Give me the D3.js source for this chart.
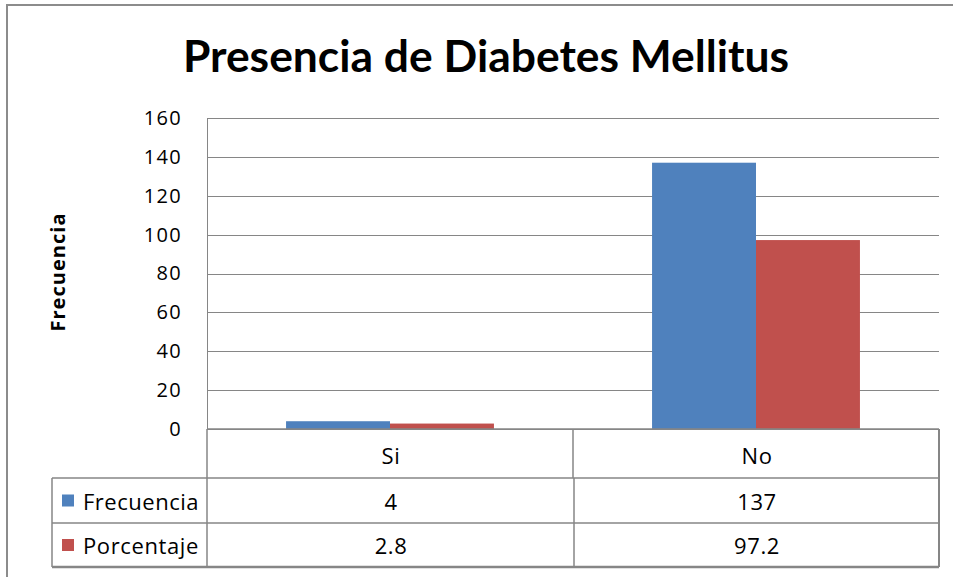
<!DOCTYPE html>
<html>
<head>
<meta charset="utf-8">
<script src="https://cdn.jsdelivr.net/npm/d3@7"></script>
<style>
html,body{margin:0;padding:0;background:#fff;}
svg{display:block;}
text{font-family:"Open Sans",sans-serif;fill:#000;}
</style>
</head>
<body>
<svg id="chart" width="953" height="577"></svg>
<script>
const title = "Presencia de Diabetes Mellitus";
const yAxisTitle = "Frecuencia";
const categories = ["Si", "No"];
const seriesNames = ["Frecuencia", "Porcentaje"];
const frecuencia = [4, 137];
const porcentaje = [2.8, 97.2];
const yTicks = [0, 20, 40, 60, 80, 100, 120, 140, 160];
const colors = ["#4F81BD", "#C0504D"];

const seriesValues = [frecuencia, porcentaje];
const svg = d3.select("#chart");

// fit a text element's width via letter-spacing
function fitSpacing(sel, target) {
  sel.each(function() {
    const n = this.textContent.length;
    const w = this.getComputedTextLength();
    if (n > 1) d3.select(this).style("letter-spacing", ((target - w) / n).toFixed(2) + "px");
  });
}

// outer border (cropped at right/bottom)
svg.append("rect").attr("x", 7).attr("y", 5).attr("width", 960).attr("height", 590)
  .attr("fill", "#fff").attr("stroke", "#8c8c8c").attr("stroke-width", 2);

const plot = {left: 207, right: 939, top: 118, bottom: 429};
const y = d3.scaleLinear().domain([0, 160]).range([plot.bottom, plot.top]);
const x0 = d3.scaleBand().domain(categories).range([plot.left, plot.right]).padding(0);
const x1 = d3.scaleBand().domain(seriesNames).range([x0.bandwidth()*0.216, x0.bandwidth()*0.784]).padding(0);

// gridlines
svg.append("g").selectAll("line").data(yTicks).join("line")
  .attr("x1", plot.left).attr("x2", plot.right)
  .attr("y1", d => Math.round(y(d)) + 0.5).attr("y2", d => Math.round(y(d)) + 0.5)
  .attr("stroke", "#868686").attr("stroke-width", 1);

// y axis
const yAxis = d3.axisLeft(y).tickValues(yTicks).tickSize(0).tickPadding(25);
const gy = svg.append("g").attr("transform", `translate(${plot.left},0)`).call(yAxis);
gy.select(".domain").remove();
gy.selectAll("text").style("font-family", "'Open Sans', sans-serif").style("font-size", "20px")
  .attr("fill", "#000").style("letter-spacing", "1.3px");
svg.append("line").attr("x1", plot.left + 0.5).attr("x2", plot.left + 0.5)
  .attr("y1", plot.top).attr("y2", plot.bottom).attr("stroke", "#868686");

// bars
const groups = svg.append("g").selectAll("g").data(categories).join("g")
  .attr("transform", d => `translate(${x0(d)},0)`);
groups.selectAll("rect").data((c, i) => seriesNames.map((s, j) => ({s, j, v: seriesValues[j][i]})))
  .join("rect")
  .attr("x", d => x1(d.s)).attr("width", x1.bandwidth())
  .attr("y", d => y(d.v)).attr("height", d => y(0) - y(d.v))
  .attr("fill", d => colors[d.j]);

// data table
const rows = [plot.bottom, 478, 523, 567];
const tableLeft = 52;
const tg = svg.append("g").attr("stroke", "#868686").attr("stroke-width", 1.5).attr("fill", "none");
tg.append("line").attr("x1", plot.left).attr("x2", plot.right).attr("y1", rows[0]).attr("y2", rows[0]);
tg.append("line").attr("x1", tableLeft).attr("x2", plot.right).attr("y1", rows[1]).attr("y2", rows[1]);
tg.append("line").attr("x1", tableLeft).attr("x2", plot.right).attr("y1", rows[2]).attr("y2", rows[2]);
tg.append("line").attr("x1", tableLeft).attr("x2", plot.right).attr("y1", rows[3]).attr("y2", rows[3]).attr("stroke-width", 2.5);
tg.append("line").attr("x1", tableLeft).attr("x2", tableLeft).attr("y1", rows[1]).attr("y2", rows[3]);
tg.append("line").attr("x1", plot.left).attr("x2", plot.left).attr("y1", rows[0]).attr("y2", rows[3]);
tg.append("line").attr("x1", plot.right).attr("x2", plot.right).attr("y1", rows[0]).attr("y2", rows[3]).attr("stroke-width", 2);
tg.append("line").attr("x1", x0("No")).attr("x2", x0("No")).attr("y1", rows[0]).attr("y2", rows[1]);
tg.append("line").attr("x1", x0("No") + 1).attr("x2", x0("No") + 1).attr("y1", rows[1]).attr("y2", rows[3]);

const fs = "22px";
const ls = "0.6px";
// category labels
svg.append("g").selectAll("text").data(categories).join("text")
  .attr("x", d => x0(d) + x0.bandwidth()/2 + 1).attr("y", (rows[0] + rows[1])/2 + 1)
  .attr("text-anchor", "middle").attr("dominant-baseline", "central")
  .style("font-size", fs).style("letter-spacing", ls).text(d => d);

// series rows
seriesNames.forEach((s, j) => {
  const cy = (rows[j+1] + rows[j+2]) / 2;
  svg.append("rect").attr("x", 62).attr("y", cy - 6).attr("width", 12).attr("height", 12).attr("fill", colors[j]);
  svg.append("text").attr("class", "legend").attr("x", 83).attr("y", cy).attr("dominant-baseline", "central")
    .style("font-size", fs).text(s);
  svg.append("g").selectAll("text").data(categories).join("text")
    .attr("x", d => x0(d) + x0.bandwidth()/2 + 1).attr("y", cy)
    .attr("text-anchor", "middle").attr("dominant-baseline", "central")
    .style("font-size", fs).style("letter-spacing", ls).text((d, i) => seriesValues[j][i]);
});
fitSpacing(svg.selectAll("text.legend"), 116);

// y axis title
const yt = svg.append("text").attr("transform", "translate(65,272) rotate(-90)")
  .attr("text-anchor", "middle").style("font-size", "20px").style("font-weight", "bold")
  .text(yAxisTitle);
fitSpacing(yt, 119);

// title
const t = svg.append("text").attr("x", 486).attr("y", 72).attr("text-anchor", "middle")
  .style("font-family", "Lato, sans-serif")
  .style("font-size", "44px").style("font-weight", "bold").text(title);
const w = t.node().getComputedTextLength();
t.style("font-size", (44 * 607 / w).toFixed(1) + "px");
</script>
</body>
</html>
